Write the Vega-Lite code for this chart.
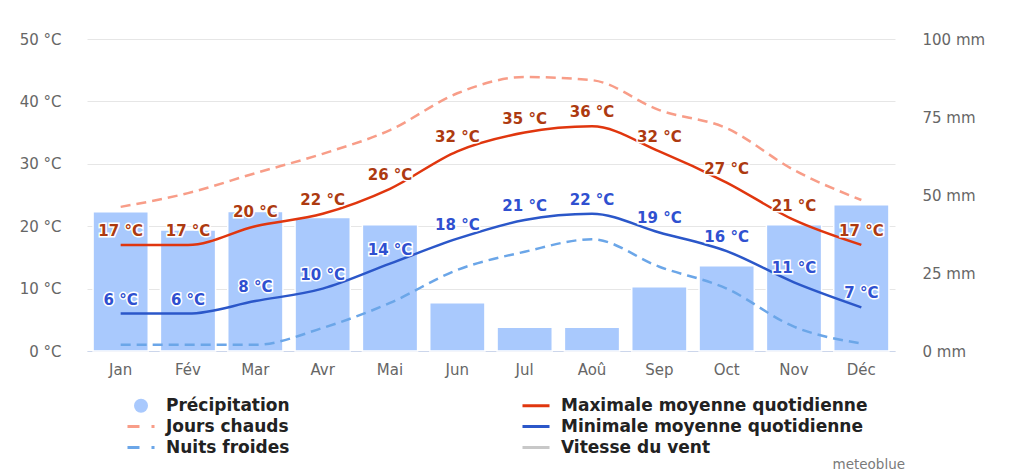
{
  "$schema": "https://vega.github.io/schema/vega-lite/v6.json",
  "width": 808,
  "height": 312,
  "autosize": {"type": "none"},
  "padding": {"left": 87, "top": 39, "right": 118, "bottom": 122},
  "background": "white",
  "title": {"text": "meteoblue", "orient": "bottom", "anchor": "end", "frame": "group", "fontSize": 13.5, "fontWeight": "normal", "color": "#7a7a7a", "font": "DejaVu Sans", "offset": 2, "dx": 10},
  "config": {
    "view": {"stroke": null},
    "font": "DejaVu Sans",
    "legend": {"orient": "none", "legendX": 45.5, "legendY": 358, "columns": 2, "columnPadding": 225, "rowPadding": 3, "padding": 0, "title": null, "labelFont": "DejaVu Sans", "labelFontSize": 17, "labelFontWeight": "bold", "labelColor": "#222222", "labelLimit": 500, "labelOffset": 16.5, "symbolSize": 196}
  },
  "data": {"values": [
    {"Mois": "Jan", "Précipitation": 44.6, "Maximale moyenne quotidienne": 17, "Minimale moyenne quotidienne": 6, "Jours chauds": 23.1, "Nuits froides": 1.0},
    {"Mois": "Fév", "Précipitation": 38.8, "Maximale moyenne quotidienne": 17, "Minimale moyenne quotidienne": 6, "Jours chauds": 25.3, "Nuits froides": 1.0},
    {"Mois": "Mar", "Précipitation": 44.7, "Maximale moyenne quotidienne": 20, "Minimale moyenne quotidienne": 8, "Jours chauds": 28.5, "Nuits froides": 1.0},
    {"Mois": "Avr", "Précipitation": 42.8, "Maximale moyenne quotidienne": 22, "Minimale moyenne quotidienne": 10, "Jours chauds": 31.6, "Nuits froides": 3.7},
    {"Mois": "Mai", "Précipitation": 40.5, "Maximale moyenne quotidienne": 26, "Minimale moyenne quotidienne": 14, "Jours chauds": 35.4, "Nuits froides": 7.7},
    {"Mois": "Jun", "Précipitation": 15.5, "Maximale moyenne quotidienne": 32, "Minimale moyenne quotidienne": 18, "Jours chauds": 41.3, "Nuits froides": 13.0},
    {"Mois": "Jul", "Précipitation": 7.6, "Maximale moyenne quotidienne": 35, "Minimale moyenne quotidienne": 21, "Jours chauds": 43.9, "Nuits froides": 15.9},
    {"Mois": "Aoû", "Précipitation": 7.6, "Maximale moyenne quotidienne": 36, "Minimale moyenne quotidienne": 22, "Jours chauds": 43.4, "Nuits froides": 17.9},
    {"Mois": "Sep", "Précipitation": 20.6, "Maximale moyenne quotidienne": 32, "Minimale moyenne quotidienne": 19, "Jours chauds": 38.6, "Nuits froides": 13.5},
    {"Mois": "Oct", "Précipitation": 27.3, "Maximale moyenne quotidienne": 27, "Minimale moyenne quotidienne": 16, "Jours chauds": 35.7, "Nuits froides": 10.0},
    {"Mois": "Nov", "Précipitation": 40.5, "Maximale moyenne quotidienne": 21, "Minimale moyenne quotidienne": 11, "Jours chauds": 29.0, "Nuits froides": 3.9},
    {"Mois": "Déc", "Précipitation": 46.9, "Maximale moyenne quotidienne": 17, "Minimale moyenne quotidienne": 7, "Jours chauds": 24.2, "Nuits froides": 1.2}
  ]},
  "encoding": {
    "x": {"field": "Mois", "type": "ordinal", "sort": null,
      "scale": {"paddingInner": 0.18, "paddingOuter": 0.09},
      "axis": {"title": null, "labelAngle": 0, "ticks": false, "domain": true, "domainColor": "#ccd6eb", "labelColor": "#666666", "labelFontSize": 15, "labelPadding": 11, "labelFont": "DejaVu Sans"}}
  },
  "layer": [
    {
      "mark": {"type": "bar", "stroke": "white", "strokeWidth": 1.5},
      "encoding": {
        "y": {"field": "Précipitation", "type": "quantitative", "scale": {"domain": [0, 100], "nice": false},
          "axis": {"orient": "right", "title": null, "values": [0, 25, 50, 75, 100], "grid": false, "ticks": false, "domain": false, "labelExpr": "datum.value + ' mm'", "labelColor": "#666666", "labelFontSize": 15, "labelPadding": 27, "labelFont": "DejaVu Sans"}},
        "color": {"datum": "Précipitation", "type": "nominal",
          "scale": {"domain": ["Précipitation", "Jours chauds", "Nuits froides", "Maximale moyenne quotidienne", "Minimale moyenne quotidienne", "Vitesse du vent"],
                    "range": ["#a9c9fd", "#f89d88", "#6ba6e8", "#e0360e", "#2b57c9", "#c8c8c8"]},
          "legend": {
            "symbolType": {"expr": "datum.value === 'Précipitation' ? 'circle' : 'M-1.93,0L1.93,0'"},
            "symbolStrokeWidth": {"expr": "datum.value === 'Précipitation' ? 0 : 3"},
            "symbolDash": {"expr": "(datum.value === 'Jours chauds' || datum.value === 'Nuits froides') ? [12, 12] : [1, 0]"},
            "symbolStrokeColor": {"expr": "scale('color', datum.value)"},
            "symbolFillColor": {"expr": "datum.value === 'Précipitation' ? '#a9c9fd' : 'transparent'"},
            "symbolOpacity": 1,
            "encode": {
              "labels": {
                "fill": {"condition": {"test": "datum.value === 'Vitesse du vent'", "value": "#c8c8c8"}, "value": "#222222"}
              }
            }
          }}
      }
    },
    {
      "layer": [
        {
          "transform": [{"fold": ["Maximale moyenne quotidienne", "Minimale moyenne quotidienne"], "as": ["Série", "Valeur"]}],
          "mark": {"type": "line", "interpolate": "monotone", "strokeWidth": 2.5},
          "encoding": {
            "y": {"field": "Valeur", "type": "quantitative", "scale": {"domain": [0, 50], "nice": false},
              "axis": {"orient": "left", "title": null, "values": [0, 10, 20, 30, 40, 50], "grid": true, "gridColor": "#e6e6e6", "ticks": false, "domain": false, "labelExpr": "datum.value + ' °C'", "labelColor": "#666666", "labelFontSize": 15, "labelPadding": 26, "labelFont": "DejaVu Sans"}},
            "color": {"field": "Série", "type": "nominal", "legend": null}
          }
        },
        {
          "transform": [{"fold": ["Jours chauds", "Nuits froides"], "as": ["Série", "Valeur"]}],
          "mark": {"type": "line", "interpolate": "monotone", "strokeWidth": 2.5, "strokeDash": [10, 6]},
          "encoding": {
            "y": {"field": "Valeur", "type": "quantitative"},
            "color": {"field": "Série", "type": "nominal", "legend": null}
          }
        },
        {
          "mark": {"type": "text", "fontWeight": "bold", "fontSize": 15, "dy": -9, "baseline": "alphabetic", "fill": "white", "stroke": "white", "strokeWidth": 3, "text": {"expr": "datum['Maximale moyenne quotidienne'] + ' °C'"}},
          "encoding": {"y": {"field": "Maximale moyenne quotidienne", "type": "quantitative"}}
        },
        {
          "mark": {"type": "text", "fontWeight": "bold", "fontSize": 15, "dy": -9, "baseline": "alphabetic", "fill": "white", "stroke": "white", "strokeWidth": 3, "text": {"expr": "datum['Minimale moyenne quotidienne'] + ' °C'"}},
          "encoding": {"y": {"field": "Minimale moyenne quotidienne", "type": "quantitative"}}
        },
        {
          "mark": {"type": "text", "fontWeight": "bold", "fontSize": 15, "dy": -9, "baseline": "alphabetic", "fill": "#ad3a10", "text": {"expr": "datum['Maximale moyenne quotidienne'] + ' °C'"}},
          "encoding": {"y": {"field": "Maximale moyenne quotidienne", "type": "quantitative"}}
        },
        {
          "mark": {"type": "text", "fontWeight": "bold", "fontSize": 15, "dy": -9, "baseline": "alphabetic", "fill": "#2f50d0", "text": {"expr": "datum['Minimale moyenne quotidienne'] + ' °C'"}},
          "encoding": {"y": {"field": "Minimale moyenne quotidienne", "type": "quantitative"}}
        }
      ]
    }
  ],
  "resolve": {"scale": {"y": "independent"}}
}
